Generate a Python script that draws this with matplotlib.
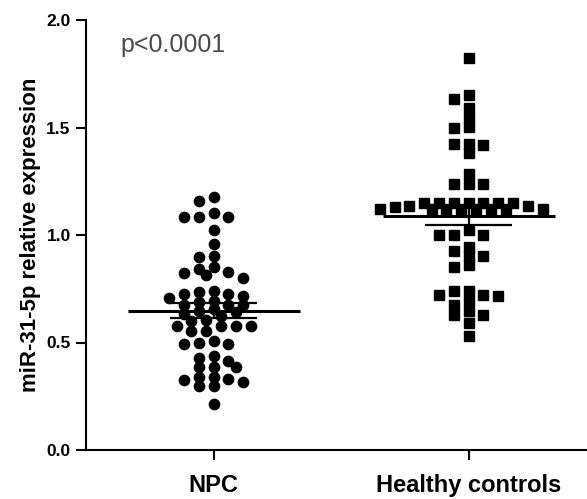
import matplotlib
matplotlib.use('Agg')
import matplotlib.pyplot as plt
import numpy as np

plt.rcParams['font.family'] = ['Liberation Sans', 'DejaVu Sans']

groups = ['NPC', 'Healthy controls']

# values
npc = [1.179, 1.156, 1.100, 1.083, 1.083, 1.083, 1.023, 0.958, 0.903, 0.896,
       0.849, 0.844, 0.826, 0.821, 0.813, 0.802,
       0.740, 0.735, 0.724, 0.724, 0.714, 0.709, 0.693,
       0.688, 0.673, 0.673, 0.673, 0.655, 0.645, 0.643,
       0.631, 0.623, 0.604, 0.600,
       0.576, 0.576, 0.576, 0.576, 0.553, 0.553,
       0.506, 0.498, 0.491, 0.491,
       0.439, 0.428, 0.416,
       0.385, 0.385, 0.385,
       0.338, 0.338, 0.330, 0.327, 0.315, 0.299, 0.299,
       0.213]
healthy = [1.822, 1.651, 1.631, 1.589, 1.542, 1.503, 1.498,
           1.425, 1.425, 1.417, 1.383, 1.285, 1.238, 1.238, 1.238,
           1.150, 1.150, 1.150, 1.150, 1.150, 1.150, 1.150,
           1.137, 1.137, 1.130,
           1.119, 1.119, 1.119, 1.119, 1.119, 1.119, 1.119, 1.119,
           1.021, 1.000, 1.000, 1.000,
           0.944, 0.925, 0.904, 0.901, 0.862, 0.850,
           0.741, 0.741, 0.723, 0.723, 0.718, 0.695,
           0.673, 0.645, 0.626, 0.626, 0.592, 0.531]

# mean line and error bars as drawn in the figure
means = [0.648, 1.088]
sems = [0.034, 0.042]

fig = plt.figure(figsize=(5.87, 4.99), dpi=100)
ax = fig.add_axes([86/587, 49/499, 501/587, 430/499])
ax.set_xlim(-0.5, 1.464)
ax.set_ylim(0, 2.0)


def swarm(center, vals, a=12.0, b=8.0, step=7.4):
    # place points on half-column steps so that none overlap (elliptic test, pixels)
    vals = np.asarray(vals)
    pts = ax.transData.transform(np.column_stack([np.full(len(vals), center), vals]))
    order = np.argsort(-vals, kind='stable')
    placed = []
    xs = np.zeros(len(vals))
    cands = [0]
    for k in range(1, 40):
        cands += [-k, k]
    for i in order:
        cx, cy = pts[i]
        for k in cands:
            x = cx + k * step
            if all(((x - px) / a) ** 2 + ((cy - py) / b) ** 2 >= 1 for px, py in placed):
                break
        placed.append((x, cy))
        xs[i] = ax.transData.inverted().transform((x, cy))[0]
    return xs


x_npc = swarm(0, npc)
x_h = swarm(1, healthy)
ax.plot(x_npc, npc, 'o', color='black', ms=7.4, mec='black', zorder=3)
ax.plot(x_h, healthy, 's', color='black', ms=6.6, mec='black', zorder=3)

for i in range(2):
    m, s = means[i], sems[i]
    ax.hlines(m, i - 0.337, i + 0.337, color='black', lw=2.2, zorder=4)
    ax.hlines([m - s, m + s], i - 0.17, i + 0.17, color='black', lw=1.6, zorder=4)
    ax.vlines(i, m - s, m + s, color='black', lw=1.6, zorder=4)

ax.spines['top'].set_visible(False)
ax.spines['right'].set_visible(False)
ax.spines['left'].set_linewidth(1.5)
ax.spines['bottom'].set_linewidth(1.5)

ax.set_yticks([0, 0.5, 1.0, 1.5, 2.0])
ax.set_yticklabels(['0.0', '0.5', '1.0', '1.5', '2.0'], fontsize=12.5, fontweight='bold')
ax.set_xticks([0, 1])
ax.set_xticklabels(groups, fontsize=17, fontweight='bold')
ax.tick_params(axis='both', length=7.5, width=1.5)
ax.tick_params(axis='x', pad=10)
ax.tick_params(axis='y', pad=3.5)
ax.set_ylabel('miR-31-5p relative expression', fontsize=16, fontweight='bold', labelpad=4)

fig.text(120/587, 1 - 45/499, 'p<0.0001', fontsize=18, color='#4a4a4a', va='center')

fig.savefig('out.png', dpi=100)
